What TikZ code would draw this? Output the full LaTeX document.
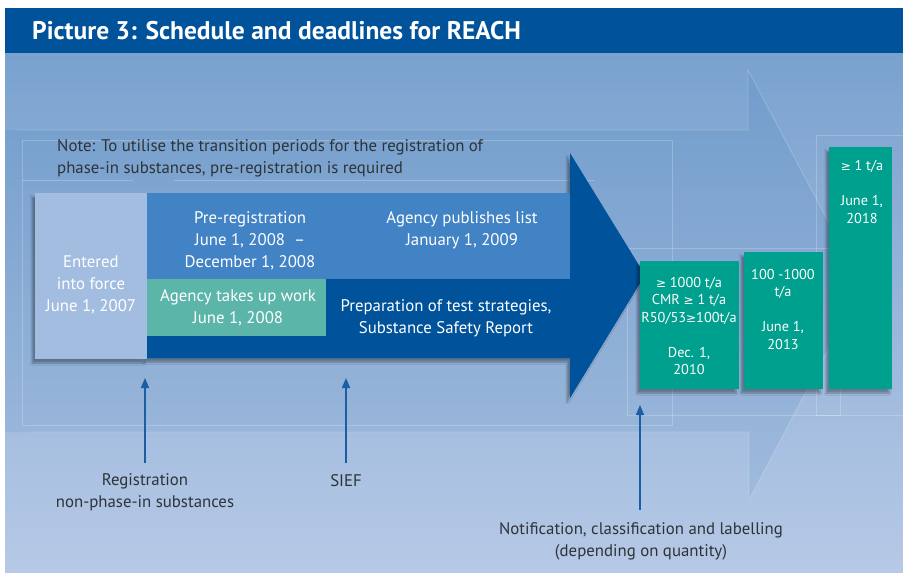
\documentclass[tikz,border=0pt]{standalone}
\usepackage{fontspec}
\setmainfont{PT Sans}
\newfontfamily\symfont{DejaVu Sans}
\newcommand{\gesym}{{\symfont\fontsize{12}{12}\selectfont ≥}}
\usetikzlibrary{arrows.meta,shadows.blur}
\definecolor{titleblue}{HTML}{00539B}
\definecolor{bgtop}{HTML}{7AA2CF}
\definecolor{bgbot}{HTML}{B6C9E6}
\definecolor{entered}{HTML}{A3BDE0}
\definecolor{darkarrow}{HTML}{00529A}
\definecolor{midblue}{HTML}{4183C4}
\definecolor{tealbox}{HTML}{5BB5A9}
\definecolor{greenbox}{HTML}{00A08E}
\definecolor{pointer}{HTML}{1A5EA6}
\definecolor{labeltext}{HTML}{2E3338}
\begin{document}
\begin{tikzpicture}[x=1pt,y=-1pt,
  boxtext/.style={text=white,align=center,inner sep=0pt,font=\fontsize{16.8}{22}\selectfont},
  smalltext/.style={text=white,align=center,inner sep=0pt,font=\fontsize{14.3}{17.5}\selectfont},
  labeltxt/.style={text=labeltext,align=center,inner sep=0pt,font=\fontsize{16.8}{22}\selectfont},
  faint/.style={draw=white,draw opacity=0.22,line width=0.8pt},
  softshadow/.style={blur shadow={shadow xshift=-3pt,shadow yshift=-4pt,shadow blur steps=8,shadow opacity=35}},
  pointerarrow/.style={draw=pointer,line width=1.5pt,-{Triangle[length=10pt,width=8pt]}}
]
\useasboundingbox (0,0) rectangle (903,578);
\fill[white] (0,0) rectangle (903,578);
% background
\shade[top color=bgtop,bottom color=bgbot] (5,53) rectangle (903,572);
% title bar
\fill[titleblue] (5,8) rectangle (903,53);
\node[anchor=west,text=white,inner sep=0pt,font=\fontsize{25.5}{28}\bfseries\selectfont] (title) at (32,31) {Picture 3: Schedule and deadlines for REACH};
% big faint arrow
\fill[fill=titleblue,fill opacity=0.08] (5,130) -- (748,130) -- (748,70) -- (862,285) -- (749,500) -- (749,432) -- (5,432) -- cycle;
\draw[faint] (17,130) -- (748,130) -- (748,70) -- (862,285) -- (749,500) -- (749,432) -- (30,432);
% faint lines
\draw[faint] (22,140) rectangle (672,425);
\draw[faint] (22,180) -- (133,180);
\draw[faint] (174,180) -- (595,180);
\draw[faint] (627,248) rectangle (840,415);
\draw[faint] (816,135) rectangle (903,415);
% note
\node[anchor=west,text=labeltext,align=left,inner sep=0pt,font=\fontsize{16.8}{22}\selectfont] (note) at (57,158) {Note: To utilise the transition periods for the registration of\\phase-in substances, pre-registration is required};
% dark arrow
\path[fill=darkarrow,softshadow] (147,193) -- (570,193) -- (570,153) -- (645,275) -- (570,398) -- (570,358) -- (147,358) -- cycle;
\fill[midblue] (147,193) rectangle (570,279);
\fill[tealbox] (147,279) rectangle (326,336);
% entered box
\path[fill=entered,softshadow] (35,193) rectangle (147,359);
\node[boxtext] (entered) at (91,285) {Entered\\into force\\June 1, 2007};
\node[boxtext] (prereg) at (250,241) {Pre-registration\\June 1, 2008~~–\\December 1, 2008};
\node[boxtext] (publish) at (462,230) {Agency publishes list\\January 1, 2009};
\node[boxtext] (agency) at (238,308) {Agency takes up work\\June 1, 2008};
\node[boxtext] (prep) at (446,318) {Preparation of test strategies,\\Substance Safety Report};
% green boxes
\path[fill=greenbox,softshadow] (640,261) rectangle (739,389);
\path[fill=greenbox,softshadow] (744,252) rectangle (823,389);
\path[fill=greenbox,softshadow] (829,147) rectangle (892,389);
\node[smalltext] (g1) at (689,326) {\gesym{} 1000 t/a\\CMR \gesym{} 1 t/a\\R50/53\gesym{}100t/a\\[17.5pt]Dec. 1,\\2010};
\node[smalltext] (g2) at (783,309) {100 -1000\\t/a\\[17.5pt]June 1,\\2013};
\node[smalltext] (g3) at (862,192) {\gesym{} 1 t/a\\[17.5pt]June 1,\\2018};
% labels
\node[labeltxt] (reg) at (145,492) {Registration\\non-phase-in substances};
\node[labeltxt] (sief) at (346,481) {SIEF};
\node[labeltxt] (notif) at (641,541) {Notification, classification and labelling\\(depending on quantity)};
\coordinate (t1) at (145,378);
\coordinate (t2) at (346,378);
\coordinate (t3) at (640,405);
\coordinate (s1) at (145,463);
\coordinate (s2) at (346,463);
\coordinate (s3) at (640,510);
\draw[pointerarrow] (s1) -- (t1);
\draw[pointerarrow] (s2) -- (t2);
\draw[pointerarrow] (s3) -- (t3);
\end{tikzpicture}
\end{document}
